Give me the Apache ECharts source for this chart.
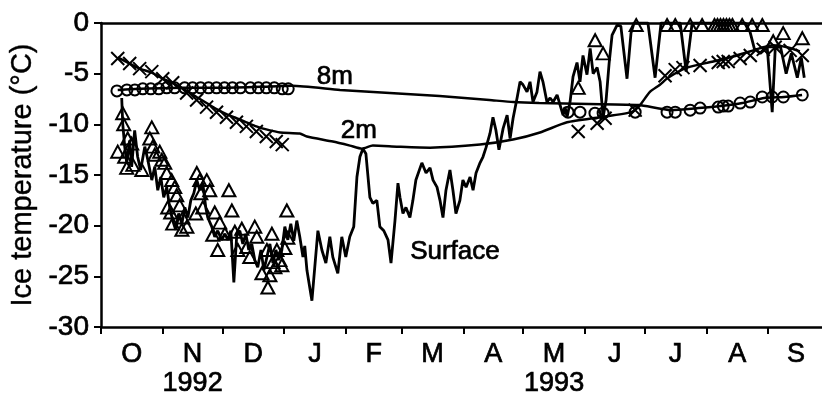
<!DOCTYPE html>
<html>
<head>
<meta charset="utf-8">
<script src="https://cdn.jsdelivr.net/npm/echarts@6/dist/echarts.min.js"></script>
<style>
  html, body { margin: 0; padding: 0; background: #fff; }
  #chart { width: 822px; height: 394px; }
</style>
</head>
<body>
<div id="chart"></div>
<script>
// Days are counted from 1 October 1992.
const monthTicks  = [0, 31, 61, 92, 123, 151, 182, 212, 243, 273, 304, 335];
const monthMid    = [15.5, 46, 76.5, 107.5, 137, 166.5, 197, 227.5, 258, 288.5, 319.5, 349];
const monthLabels = ['O', 'N', 'D', 'J', 'F', 'M', 'A', 'M', 'J', 'J', 'A', 'S'];
const yearLabels  = ['', '1992', '', '', '', '', '', '1993', '', '', '', ''];
const tempTicks   = [0, -5, -10, -15, -20, -25, -30];

// Daily surface ice temperature
const surfDay = [10.4, 10.9, 11.9, 12.9, 14.4, 15.4, 16.9, 18.4, 19.9, 22.0, 23.5, 25.5, 27.0, 28.5, 30.0, 31.5,
  33.0, 34.5, 36.0, 37.5, 39.0, 40.6, 42.1, 43.6, 45.1, 46.6, 48.1, 49.6, 51.1, 52.6, 53.6, 55.6, 57.1, 58.6,
  60.6, 62.2, 63.7, 65.2, 66.7, 68.2, 69.7, 71.2, 72.7, 74.2, 75.7, 77.2, 78.7, 80.3, 81.8, 83.3, 84.8, 86.3,
  87.8, 89.3, 90.8, 92.3, 93.8, 95.3, 96.8, 98.3, 99.8, 101.4, 102.3, 103.4, 105.9, 108.9, 110.9, 112.9, 114.9,
  116.4, 118.9, 120.9, 122.9, 124.9, 126.9, 128.5, 130.0, 131.5, 133.0, 135.0, 136.5, 138.5, 140.0, 142.0,
  144.1, 145.6, 147.6, 149.1, 150.1, 151.6, 153.1, 155.1, 156.6, 158.1, 161.1, 163.2, 165.2, 166.7, 168.7,
  170.2, 171.7, 173.2, 175.2, 176.7, 178.2, 180.2, 181.7, 183.3, 185.3, 186.8, 188.3, 190.3, 191.8, 193.3,
  195.3, 196.8, 198.3, 199.8, 201.9, 203.9, 205.4, 206.9, 208.9, 210.4, 211.9, 213.9, 215.4, 216.9, 218.9,
  220.4, 221.9, 223.9, 225.5, 227.0, 229.0, 230.5, 232.0, 233.0, 234.0, 235.5, 237.0, 239.0, 240.5, 242.0,
  244.0, 245.6, 247.1, 249.1, 250.6, 252.1, 253.6, 255.1, 256.6, 259.1, 261.0, 264.1, 266.1, 267.6, 274.6,
  278.2, 281.2, 290.8, 293.8, 296.8, 323.4, 325.9, 328.0, 331.0, 334.5, 337.0, 338.5, 341.0, 344.0, 346.6,
  349.6, 351.6, 353.1];
const surfTemp = [-7.4, -9.9, -12.2, -13.8, -11.6, -14.2, -10.6, -13.2, -14.5, -12.2, -13.5, -15.5, -14.2, -16.5, -15.2, -17.2,
  -16.2, -18.2, -19.5, -20.4, -18.8, -19.8, -18.2, -19.2, -17.5, -16.8, -15.5, -16.5, -15.8, -18.2, -19.2, -20.1, -21.1, -20.5,
  -21.4, -20.8, -21.4, -20.5, -25.6, -20.8, -20.5, -21.8, -20.8, -22.4, -21.8, -23.4, -24.1, -22.4, -24.4, -23.1, -21.8, -23.7,
  -22.4, -23.4, -22.4, -20.1, -21.4, -19.8, -21.5, -19.5, -21.1, -23.1, -22.0, -24.4, -27.4, -20.5, -22.4, -23.7, -21.1,
  -23.1, -24.7, -21.1, -23.1, -21.1, -20.1, -15.2, -13.2, -12.4, -12.9, -17.2, -17.8, -17.5, -20.1, -20.5,
  -21.4, -23.7, -19.5, -15.8, -17.2, -18.8, -18.2, -19.2, -17.5, -15.5, -13.8, -14.8, -14.3, -15.5, -16.2,
  -17.5, -19.2, -16.5, -14.5, -16.5, -18.8, -17.5, -15.5, -16.2, -15.2, -16.5, -14.8, -13.8, -13.2, -12.3,
  -10.9, -9.3, -10.6, -12.5, -10.4, -9.1, -11.4, -9.4, -7.4, -5.8, -6.1, -6.8, -5.8, -7.8, -6.8,
  -4.8, -5.8, -7.8, -7.4, -7.8, -7.1, -8.1, -9.1, -8.3, -9.3, -7.8, -5.3, -3.9, -5.8, -3.2,
  -5.1, -2.5, -5.0, -4.4, -5.8, -9.3, -7.6, -4.0, -1.2, -0.2, -0.3, -5.5, -1.0, 0, 0,
  -5.4, 0, 0, -4.8, 0, 0, -0.9, -2.5, -3.0, -2.4, -8.8, -2.6, -2.2, -5.0, -3.0,
  -5.4, -3.4, -5.4];

// Spot surface readings
const triDay = [8.4, 10.9, 11.4, 11.9, 12.9, 13.4, 15.4, 16.0, 20.5, 24.5, 25.5, 26.0, 27.0, 29.5, 30.5, 32.0,
  33.0, 33.5, 35.0, 35.5, 36.0, 37.0, 38.0, 39.5, 40.6, 41.1, 43.1, 47.6, 48.1, 49.6, 50.1, 51.1, 53.1, 54.6,
  56.1, 57.1, 58.6, 59.6, 62.2, 64.2, 65.7, 67.2, 68.7, 70.7, 73.2, 74.7, 77.2, 78.2, 80.8, 83.3, 83.8, 84.8,
  85.8, 86.3, 87.3, 88.3, 89.8, 90.8, 92.3, 93.3, 93.8,
  239.6, 248.1, 252.1, 268.7, 284.2, 288.3, 295.8, 301.8, 308.0, 309.5, 311.0, 312.5, 314.0, 315.5, 317.0,
  321.9, 326.9, 332.0, 337.5, 342.5, 352.1];
const triTemp = [-12.7, -8.9, -10.0, -13.2, -14.3, -11.4, -11.9, -14.0, -14.5, -11.4, -10.3, -12.2, -13.0, -12.7, -13.5, -13.8,
  -14.8, -18.2, -18.7, -15.5, -19.8, -16.2, -17.0, -18.0, -20.4, -19.2, -20.1, -18.8, -14.8, -15.5, -16.8, -18.2, -15.5, -16.5,
  -20.9, -18.7, -22.4, -19.7, -20.8, -16.5, -18.5, -20.6, -22.4, -20.3, -22.1, -23.1, -20.1, -21.1, -24.7, -22.4, -26.1, -24.9,
  -20.8, -23.6, -24.1, -22.4, -23.4, -23.9, -22.2, -18.5, -21.2,
  -6.4, -1.7, -3.0, -0.2, -0.2, -0.2, -0.2, -0.2, -0.2, -0.2, -0.2, -0.2, -0.2, -0.2, -0.2,
  -0.2, -0.2, -0.2, -1.8, -1.0, -1.5];

// 2 m depth: continuous record and spot readings
const m2Day  = [8.4, 14.4, 19.4, 25.5, 31, 36, 43, 48, 53, 58, 63, 68, 73, 78, 83, 90, 99.8, 103.4, 116.4, 125,
  131, 136.5, 148.5, 165.2, 190.3, 206.9, 220.4, 234, 250.6, 266.2, 270.6, 275.6, 280.6, 284.7, 294.3, 307.4,
  317.4, 327.5, 332.5, 337.5, 344.5, 350.9];
const m2Temp = [-3.4, -4.0, -4.5, -4.9, -5.5, -5.9, -6.7, -7.3, -7.9, -8.5, -9.0, -9.4, -9.8, -10.2, -10.5, -10.8, -10.9, -11.2, -11.7, -12.1,
  -12.4, -12.1, -12.2, -12.3, -12.0, -11.5, -10.8, -9.8, -9.3, -8.8, -8.1, -6.8, -6.1, -5.4, -4.4, -3.8,
  -3.3, -2.7, -2.4, -2.2, -2.4, -2.8];
const crossDay  = [8.4, 14.4, 19.4, 25.5, 31, 36, 43, 48, 53, 58, 63, 68, 73, 78, 83, 88, 91,
  239.6, 249.1, 253.1, 268.2, 283.2, 288.3, 292.2, 300.8, 309.9, 312.4, 314.9, 320.9, 326.0, 332.5, 338.5, 346.0, 352.1];
const crossTemp = [-3.5, -4.0, -4.5, -4.8, -5.5, -5.9, -6.9, -7.6, -8.3, -8.8, -9.3, -9.8, -10.2, -10.7, -11.2, -11.7, -12.0,
  -10.7, -9.9, -9.4, -8.6, -5.2, -4.6, -4.4, -4.2, -3.9, -3.8, -3.8, -3.5, -3.2, -2.6, -2.4, -2.7, -3.2];

// 8 m depth: continuous record and spot readings
const m8Day  = [8.4, 20, 40, 60, 80, 96, 120, 145, 170, 195, 207, 220, 245, 270, 286, 300, 311, 322, 333, 343, 352];
const m8Temp = [-6.6, -6.5, -6.4, -6.4, -6.3, -6.2, -6.6, -6.9, -7.2, -7.6, -7.8, -7.9, -8.0, -8.1, -8.6, -8.4, -8.2, -7.9, -7.4, -7.3, -7.1];
const circDay  = [8, 13, 17, 21, 25, 29, 33, 37, 42, 46, 50, 54, 58, 62, 66, 70, 75, 79, 83, 87, 91, 94,
  234.5, 240.5, 248.0, 252.1, 268.2, 284.2, 288.3, 295.8, 300.8, 309.9, 312.4, 314.9, 320.9, 326.0, 332.0, 337.0, 342.6, 352.1];
const circTemp = [-6.7, -6.6, -6.6, -6.5, -6.5, -6.5, -6.4, -6.4, -6.4, -6.4, -6.4, -6.4, -6.4, -6.4, -6.4, -6.4, -6.4, -6.4, -6.4, -6.4, -6.5, -6.5,
  -8.8, -8.8, -8.9, -8.9, -8.8, -8.8, -8.8, -8.6, -8.4, -8.3, -8.2, -8.2, -7.9, -7.8, -7.3, -7.3, -7.3, -7.1];

const zip = (a, b) => a.map((d, i) => [d, b[i]]);

const FONT = "'Liberation Sans', Arial, sans-serif";
const INK = '#000';
// a thin outline thickens the glyphs a little
const heavy = { color: INK, fontFamily: FONT, textBorderColor: INK, textBorderWidth: 0.7 };

// open markers, fully opaque outlines
const hollow = { color: 'rgba(0,0,0,0)', borderColor: INK, borderWidth: 2, opacity: 1 };

const chart = echarts.init(document.getElementById('chart'), null, { renderer: 'canvas' });

function annotation(name, coord) {
  return {
    symbol: 'circle', symbolSize: 0, silent: true,
    label: Object.assign({ show: true, position: 'inside', formatter: '{b}', fontSize: 26 }, heavy),
    data: [{ name: name, coord: coord }]
  };
}

chart.setOption({
  animation: false,
  backgroundColor: '#fff',
  grid: { left: 101, right: 0, top: 23, bottom: 67, containLabel: false, outerBoundsMode: 'none' },
  xAxis: [{
    type: 'value', min: 0, max: 362, position: 'bottom',
    axisLine: { show: true, onZero: false, lineStyle: { color: INK, width: 2.5 } },
    axisTick: { show: true, inside: false, length: 7, customValues: monthTicks, lineStyle: { color: INK, width: 2 } },
    axisLabel: Object.assign({
      customValues: monthMid, margin: 13, fontSize: 27, lineHeight: 29,
      formatter: function (v) {
        const i = monthMid.indexOf(v);
        if (i < 0) return '';
        return yearLabels[i] ? monthLabels[i] + '\n' + yearLabels[i] : monthLabels[i];
      }
    }, heavy),
    splitLine: { show: false }
  }, {
    type: 'value', min: 0, max: 362, position: 'top',
    axisLine: { show: true, onZero: false, lineStyle: { color: INK, width: 2.5 } },
    axisTick: { show: false }, axisLabel: { show: false }, splitLine: { show: false }
  }],
  yAxis: {
    type: 'value', min: -30, max: 0, interval: 5,
    name: 'Ice temperature (°C)', nameLocation: 'middle', nameRotate: 90, nameGap: 60,
    nameTextStyle: Object.assign({ fontSize: 29 }, heavy, { textBorderWidth: 0.4 }),
    axisLine: { show: true, onZero: false, lineStyle: { color: INK, width: 2.5 } },
    axisTick: { show: true, inside: false, length: 7, lineStyle: { color: INK, width: 2 } },
    axisLabel: Object.assign({ fontSize: 28, margin: 12 }, heavy),
    splitLine: { show: false }
  },
  series: [
    {
      name: 'Surface', type: 'line', data: zip(surfDay, surfTemp), showSymbol: false, z: 3,
      lineStyle: { color: INK, width: 2.8 }, itemStyle: { color: INK },
      markPoint: annotation('Surface', [177.7, -22.6])
    },
    {
      name: '2m', type: 'line', data: zip(m2Day, m2Temp), showSymbol: false, smooth: 0.2, z: 3,
      lineStyle: { color: INK, width: 2.5 }, itemStyle: { color: INK },
      markPoint: annotation('2m', [129.5, -10.6])
    },
    {
      name: '8m', type: 'line', data: zip(m8Day, m8Temp), showSymbol: false, smooth: 0.2, z: 3,
      lineStyle: { color: INK, width: 2.5 }, itemStyle: { color: INK },
      markPoint: annotation('8m', [117.4, -5.3])
    },
    {
      name: 'Surface obs', type: 'scatter', data: zip(triDay, triTemp), symbol: 'triangle',
      symbolSize: [13, 12], itemStyle: hollow, z: 4
    },
    {
      name: '2m obs', type: 'scatter', data: zip(crossDay, crossTemp),
      symbol: 'path://M0,0L10,10M10,0L0,10', symbolSize: 13, itemStyle: hollow, z: 4
    },
    {
      name: '8m obs', type: 'scatter', data: zip(circDay, circTemp), symbol: 'circle',
      symbolSize: 11, itemStyle: hollow, z: 4
    }
  ]
});
</script>
</body>
</html>
